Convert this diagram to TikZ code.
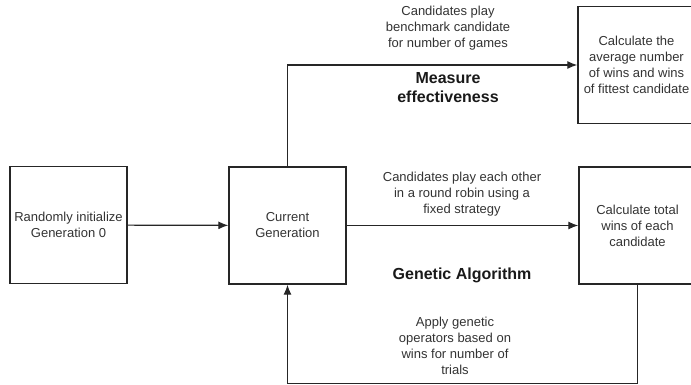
\documentclass[tikz,border=0pt]{standalone}
\usepackage{fontspec}
\setmainfont{Liberation Sans}
\usetikzlibrary{arrows.meta}
\tikzset{>={Latex[length=10pt,width=8pt]}}
\begin{document}
\begin{tikzpicture}[x=1pt,y=-1pt,
	box/.style={draw=black!85, line width=1.4pt, minimum width=117pt, minimum height=117pt, inner sep=2pt, align=center, font=\fontsize{13}{16}\selectfont, text=black!80},
	note/.style={align=center, font=\fontsize{13}{16}\selectfont, text=black!80},
	heading/.style={align=center, font=\fontsize{16}{19}\selectfont\bfseries, text=black!90}]
	\useasboundingbox (0,0) rectangle (691,385);
	\clip (0,0) rectangle (691,385);
	\node[box] (init) at (68.5,225) {Randomly initialize\\Generation 0};
	\node[box] (cur) at (287.5,225.5) {Current\\Generation};
	\node[box] (total) at (637.5,225.5) {Calculate total\\wins of each\\candidate};
	\node[box] (eval) at (636.5,65) {Calculate the\\average number\\of wins and wins\\of fittest candidate};
	\coordinate (loop) at (637.5,383.5);

	\node[note] (bench) at (448,28) {Candidates play\\benchmark candidate\\for number of games};
	\node[heading] (measure) at (448,88) {Measure\\effectiveness};
	\node[note] (robin) at (462,194) {Candidates play each other\\in a round robin using a\\fixed strategy};
	\node[heading] (ga) at (462,275) {Genetic Algorithm};
	\node[note] (ops) at (455,346) {Apply genetic\\operators based on\\wins for number of\\trials};

	\path[draw=black!85,line width=1.2pt,->] (init) -- (cur);
	\path[draw=black!85,line width=1.2pt,->] (cur) -- (total);
	\path[draw=black!85,line width=1.2pt,->] (cur.north) |- (eval.west);
	\path[draw=black!85,line width=1.2pt,->] (total.south) -- (loop) -| (cur.south);
\end{tikzpicture}
\end{document}
